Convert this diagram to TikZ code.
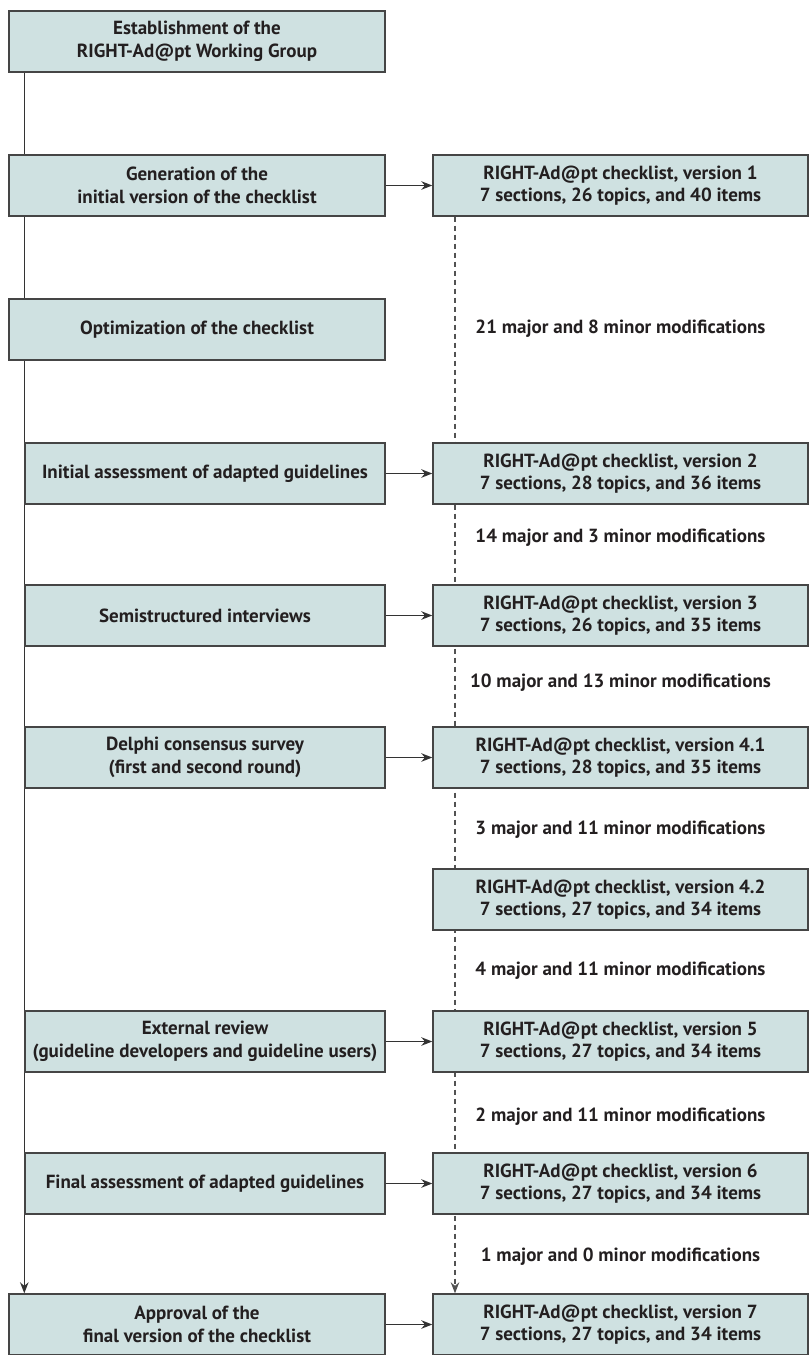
\documentclass[tikz,border=0pt]{standalone}
\usepackage{fontspec}
\setmainfont{PT Sans}
\usetikzlibrary{arrows.meta,backgrounds}
\definecolor{boxc}{HTML}{CFE1E1}
\definecolor{bordc}{HTML}{454545}
\definecolor{linec}{HTML}{333333}
\definecolor{txtc}{HTML}{231F20}
\newcommand{\boxfont}{\fontsize{19}{22.7}\selectfont\bfseries}
\tikzset{
  box/.style={draw=bordc, fill=boxc, line width=1.4pt, minimum height=61pt, inner sep=0pt,
    align=center, font=\boxfont, text=txtc},
  lbox/.style={box, minimum width=376pt},
  mbox/.style={box, minimum width=360pt},
  rbox/.style={box, minimum width=375pt},
  modlabel/.style={font=\boxfont, text=txtc, inner sep=0pt},
  conn/.style={draw=linec, line width=1.4pt, -{Stealth[length=11pt,width=8.5pt]}},
  dconn/.style={draw=linec!85, line width=1.1pt, dash pattern=on 5pt off 4pt, -{Stealth[length=11pt,width=8.5pt]}},
}
\begin{document}
\begin{tikzpicture}[x=1pt,y=-1pt]
\useasboundingbox (0,0) rectangle (810,1355);
% left column
\node[lbox] (est) at (197,41.5) {Establishment of the\\RIGHT-Ad@pt Working Group};
\node[lbox] (gen) at (197,185.5) {Generation of the\\initial version of the checklist};
\node[lbox] (opt) at (197,329.5) {Optimization of the checklist};
\node[mbox] (ini) at (205,473.5) {Initial assessment of adapted guidelines};
\node[mbox] (sem) at (205,615.5) {Semistructured interviews};
\node[mbox] (del) at (205,757.5) {Delphi consensus survey\\(first and second round)};
\node[mbox] (ext) at (205,1041.5) {External review\\(guideline developers and guideline users)};
\node[mbox] (fin) at (205,1183.5) {Final assessment of adapted guidelines};
\node[lbox] (app) at (197,1324.5) {Approval of the\\final version of the checklist};
% right column
\node[rbox] (v1) at (620.5,185.5) {RIGHT-Ad@pt checklist, version 1\\7 sections, 26 topics, and 40 items};
\node[rbox] (v2) at (620.5,473.5) {RIGHT-Ad@pt checklist, version 2\\7 sections, 28 topics, and 36 items};
\node[rbox] (v3) at (620.5,615.5) {RIGHT-Ad@pt checklist, version 3\\7 sections, 26 topics, and 35 items};
\node[rbox] (v41) at (620.5,757.5) {RIGHT-Ad@pt checklist, version 4.1\\7 sections, 28 topics, and 35 items};
\node[rbox] (v42) at (620.5,899.5) {RIGHT-Ad@pt checklist, version 4.2\\7 sections, 27 topics, and 34 items};
\node[rbox] (v5) at (620.5,1041.5) {RIGHT-Ad@pt checklist, version 5\\7 sections, 27 topics, and 34 items};
\node[rbox] (v6) at (620.5,1183.5) {RIGHT-Ad@pt checklist, version 6\\7 sections, 27 topics, and 34 items};
\node[rbox] (v7) at (620.5,1324.5) {RIGHT-Ad@pt checklist, version 7\\7 sections, 27 topics, and 34 items};
% modification labels
\node[modlabel] (m1) at (620.5,329) {21 major and 8 minor modifications};
\node[modlabel] (m2) at (620.5,538) {14 major and 3 minor modifications};
\node[modlabel] (m3) at (620.5,683) {10 major and 13 minor modifications};
\node[modlabel] (m4) at (620.5,830) {3 major and 11 minor modifications};
\node[modlabel] (m5) at (620.5,971) {4 major and 11 minor modifications};
\node[modlabel] (m6) at (620.5,1117) {2 major and 11 minor modifications};
\node[modlabel] (m7) at (620.5,1257) {1 major and 0 minor modifications};
\coordinate (dx) at (455,0);
\begin{scope}[on background layer]
\draw[conn] (est.south -| ini.west) -- (app.north -| ini.west);
\draw[dconn] (v1.south -| dx) -- (v7.north -| dx);
\end{scope}
\draw[conn] (gen.east) -- (v1.west);
\draw[conn] (ini.east) -- (v2.west);
\draw[conn] (sem.east) -- (v3.west);
\draw[conn] (del.east) -- (v41.west);
\draw[conn] (ext.east) -- (v5.west);
\draw[conn] (fin.east) -- (v6.west);
\draw[conn] (app.east) -- (v7.west);
\end{tikzpicture}
\end{document}
